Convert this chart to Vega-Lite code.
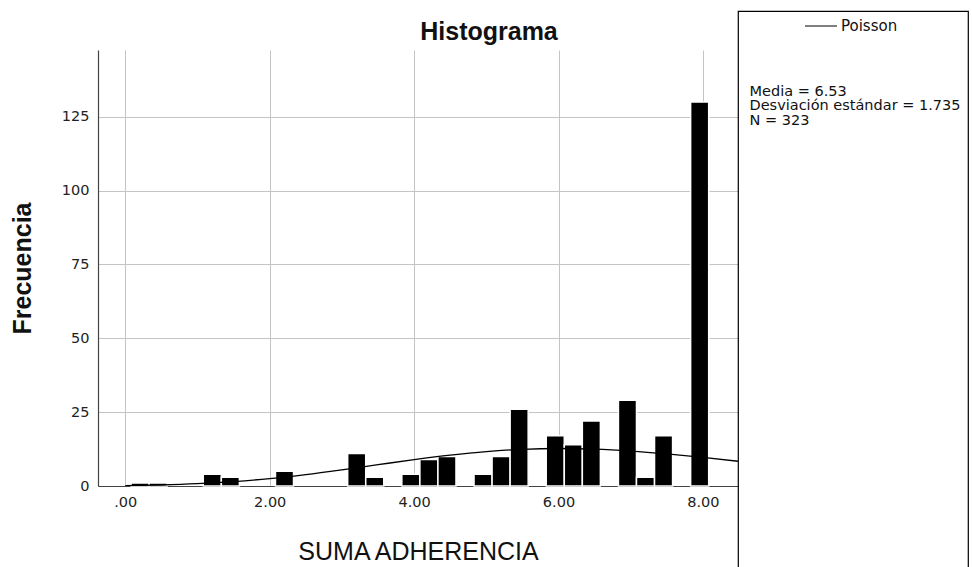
{
  "$schema": "https://vega.github.io/schema/vega-lite/v6.json",
  "background": "white",
  "padding": {"left": 10, "top": 8, "right": 0, "bottom": 0},
  "spacing": -2,
  "resolve": {"scale": {"color": "independent"}, "legend": {"color": "independent"}},
  "config": {
    "font": "Liberation Sans",
    "view": {"stroke": null},
    "axis": {
      "labelFont": "DejaVu Sans",
      "labelFontSize": 14.5,
      "labelColor": "#222",
      "titleFont": "Liberation Sans",
      "titleColor": "#111",
      "titleFontSize": 25,
      "ticks": false,
      "domainColor": "#444",
      "domainWidth": 1.2,
      "gridColor": "#c4c4c4",
      "gridWidth": 1
    }
  },
  "hconcat": [
    {
      "spacing": 0,
      "vconcat": [
        {
          "width": 640,
          "height": 39,
          "data": {"values": [{"title": "Histograma"}]},
          "mark": {"type": "text", "font": "Liberation Sans", "fontSize": 25, "fontWeight": "bold", "color": "#111", "align": "center", "baseline": "middle", "dx": 71, "dy": 1},
          "encoding": {"text": {"field": "title"}}
        },
        {
          "width": 640,
          "height": 436,
          "layer": [
            {
              "data": {"values": [
                {"x0": 0.08, "x1": 0.33, "count": 1},
                {"x0": 0.33, "x1": 0.58, "count": 1},
                {"x0": 1.08, "x1": 1.33, "count": 4},
                {"x0": 1.33, "x1": 1.58, "count": 3},
                {"x0": 2.08, "x1": 2.33, "count": 5},
                {"x0": 3.08, "x1": 3.33, "count": 11},
                {"x0": 3.33, "x1": 3.58, "count": 3},
                {"x0": 3.83, "x1": 4.08, "count": 4},
                {"x0": 4.08, "x1": 4.33, "count": 9},
                {"x0": 4.33, "x1": 4.58, "count": 10},
                {"x0": 4.83, "x1": 5.08, "count": 4},
                {"x0": 5.08, "x1": 5.33, "count": 10},
                {"x0": 5.33, "x1": 5.58, "count": 26},
                {"x0": 5.83, "x1": 6.08, "count": 17},
                {"x0": 6.08, "x1": 6.33, "count": 14},
                {"x0": 6.33, "x1": 6.58, "count": 22},
                {"x0": 6.83, "x1": 7.08, "count": 29},
                {"x0": 7.08, "x1": 7.33, "count": 3},
                {"x0": 7.33, "x1": 7.58, "count": 17},
                {"x0": 7.83, "x1": 8.08, "count": 130}
              ]},
              "mark": {"type": "rect", "fill": "black", "stroke": "white", "strokeWidth": 1.5},
              "encoding": {
                "x": {
                  "field": "x0", "type": "quantitative",
                  "scale": {"domain": [-0.378, 8.486], "nice": false, "zero": false},
                  "axis": {
                    "values": [0, 2, 4, 6, 8],
                    "labelExpr": "datum.value == 0 ? '.00' : format(datum.value, '.2f')",
                    "labelPadding": 9.5,
                    "title": "SUMA ADHERENCIA",
                    "titleFontWeight": "normal",
                    "titlePadding": 30,
                    "grid": true
                  }
                },
                "x2": {"field": "x1"},
                "y": {
                  "field": "count", "type": "quantitative",
                  "scale": {"domain": [0, 147.6], "nice": false},
                  "axis": {
                    "values": [0, 25, 50, 75, 100, 125],
                    "labelPadding": 9,
                    "title": "Frecuencia",
                    "titleFontWeight": "bold",
                    "titlePadding": 26,
                    "grid": true
                  }
                },
                "y2": {"datum": 0}
              }
            },
            {
              "data": {"values": [
                {"x": 0, "y": 0.12}, {"x": 0.5, "y": 0.34}, {"x": 1, "y": 0.77},
                {"x": 1.5, "y": 1.48}, {"x": 2, "y": 2.51}, {"x": 2.5, "y": 3.86},
                {"x": 3, "y": 5.47}, {"x": 3.5, "y": 7.21}, {"x": 4, "y": 8.93},
                {"x": 4.5, "y": 10.46}, {"x": 5, "y": 11.66}, {"x": 5.5, "y": 12.42},
                {"x": 6, "y": 12.69}, {"x": 6.5, "y": 12.47}, {"x": 7, "y": 11.83},
                {"x": 7.5, "y": 10.86}, {"x": 8, "y": 9.66}, {"x": 8.5, "y": 8.34}
              ]},
              "mark": {"type": "line", "color": "black", "strokeWidth": 1.3, "interpolate": "monotone", "clip": true},
              "encoding": {
                "x": {"field": "x", "type": "quantitative"},
                "y": {"field": "y", "type": "quantitative"}
              }
            }
          ]
        }
      ]
    },
    {
      "width": 230,
      "height": 560,
      "view": {"stroke": "black", "strokeWidth": 1.2},
      "data": {"values": [
        {"order": 1, "label": "Media = 6.53"},
        {"order": 2, "label": "Desviación estándar = 1.735"},
        {"order": 3, "label": "N = 323"}
      ]},
      "mark": {"type": "text", "align": "left", "baseline": "middle", "font": "DejaVu Sans", "fontSize": 14.5, "clip": true},
      "encoding": {
        "x": {"datum": 0, "type": "quantitative", "scale": {"domain": [-0.05, 0.95], "nice": false, "zero": false}, "axis": null},
        "y": {"field": "order", "type": "quantitative", "scale": {"domain": [-4.552, 34.07], "reverse": true, "nice": false, "zero": false}, "axis": null},
        "text": {"field": "label"},
        "color": {
          "datum": "Poisson",
          "scale": {"range": ["#111"]},
          "legend": {
            "title": null,
            "orient": "none",
            "legendX": 66,
            "legendY": -2,
            "symbolType": "stroke",
            "symbolSize": 1024,
            "symbolStrokeColor": "#555",
            "symbolStrokeWidth": 1.5,
            "labelFont": "DejaVu Sans",
            "labelFontSize": 15,
            "labelColor": "#111",
            "labelOffset": 3
          }
        }
      }
    }
  ]
}
